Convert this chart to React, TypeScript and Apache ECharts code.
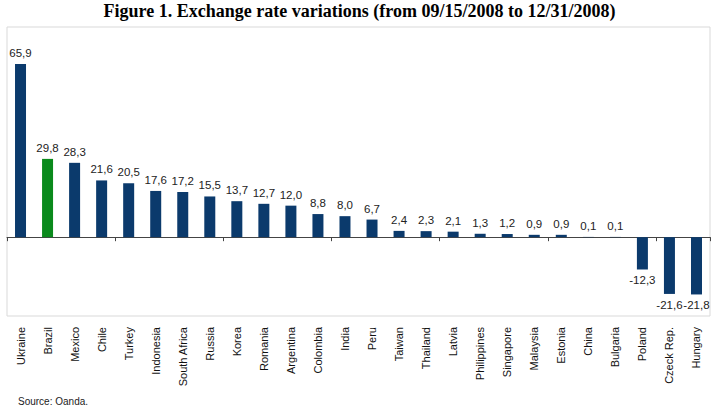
import React, { useEffect, useRef } from "react";
import * as echarts from "echarts";

const countries = [
  "Ukraine", "Brazil", "Mexico", "Chile", "Turkey", "Indonesia", "South Africa",
  "Russia", "Korea", "Romania", "Argentina", "Colombia", "India", "Peru",
  "Taiwan", "Thailand", "Latvia", "Philippines", "Singapore", "Malaysia",
  "Estonia", "China", "Bulgaria", "Poland", "Czeck Rep.", "Hungary",
];

const variations = [
  65.9, 29.8, 28.3, 21.6, 20.5, 17.6, 17.2, 15.5, 13.7, 12.7, 12.0, 8.8, 8.0,
  6.7, 2.4, 2.3, 2.1, 1.3, 1.2, 0.9, 0.9, 0.1, 0.1, -12.3, -21.6, -21.8,
];

const highlighted = "Brazil";

const NAVY = "#0b3a6c";
const GREEN = "#0a8a1c";
const FONT = "Liberation Sans, Arial, sans-serif";

const fmt = (v: number) => v.toFixed(1).replace(".", ",");

export default function App() {
  const ref = useRef<HTMLDivElement>(null);

  useEffect(() => {
    if (!ref.current) return;
    const chart = echarts.init(ref.current, undefined, { renderer: "svg" });

    chart.setOption({
      animation: false,
      backgroundColor: "#ffffff",
      title: {
        text: "Figure 1. Exchange rate variations (from 09/15/2008 to 12/31/2008)",
        left: "center",
        top: -3,
        textStyle: {
          fontFamily: "Liberation Serif, Times New Roman, serif",
          fontWeight: "bold",
          fontSize: 18,
          color: "#000",
        },
      },
      graphic: [
        {
          type: "text",
          left: 18,
          top: 396,
          style: {
            text: "Source: Oanda.",
            fontFamily: FONT,
            fontSize: 10,
            fill: "#222",
          },
        },
      ],
      grid: {
        left: 7,
        right: 9,
        top: 27,
        bottom: 95,
        show: true,
        borderColor: "#d9d9d9",
        borderWidth: 1,
        containLabel: false,
      },
      xAxis: [
        {
          type: "category",
          data: countries,
          position: "bottom",
          axisLine: { onZero: true, lineStyle: { color: "#444", width: 1 } },
          axisTick: { show: true, length: 4, lineStyle: { color: "#444" } },
          axisLabel: { show: false },
        },
        {
          type: "category",
          data: countries,
          position: "bottom",
          axisLine: { show: false, onZero: false },
          axisTick: { show: false },
          axisLabel: {
            rotate: 90,
            margin: 11,
            interval: 0,
            fontFamily: FONT,
            fontSize: 11,
            color: "#111",
          },
        },
      ],
      yAxis: {
        type: "value",
        min: -30,
        max: 80,
        axisLine: { show: false },
        axisTick: { show: false },
        axisLabel: { show: false },
        splitLine: { show: false },
      },
      series: [
        {
          type: "bar",
          xAxisIndex: 0,
          barWidth: 11,
          data: variations.map((v, i) => ({
            value: v,
            itemStyle: { color: countries[i] === highlighted ? GREEN : NAVY },
            label: { position: v < 0 ? "bottom" : "top" },
          })),
          label: {
            show: true,
            distance: 5,
            fontFamily: FONT,
            fontSize: 11.5,
            color: "#222",
            formatter: (p: any) => fmt(p.value),
          },
        },
      ],
    });

    return () => chart.dispose();
  }, []);

  return (
    <div
      ref={ref}
      style={{ position: "fixed", left: 0, top: 0, width: 719, height: 411 }}
    />
  );
}
